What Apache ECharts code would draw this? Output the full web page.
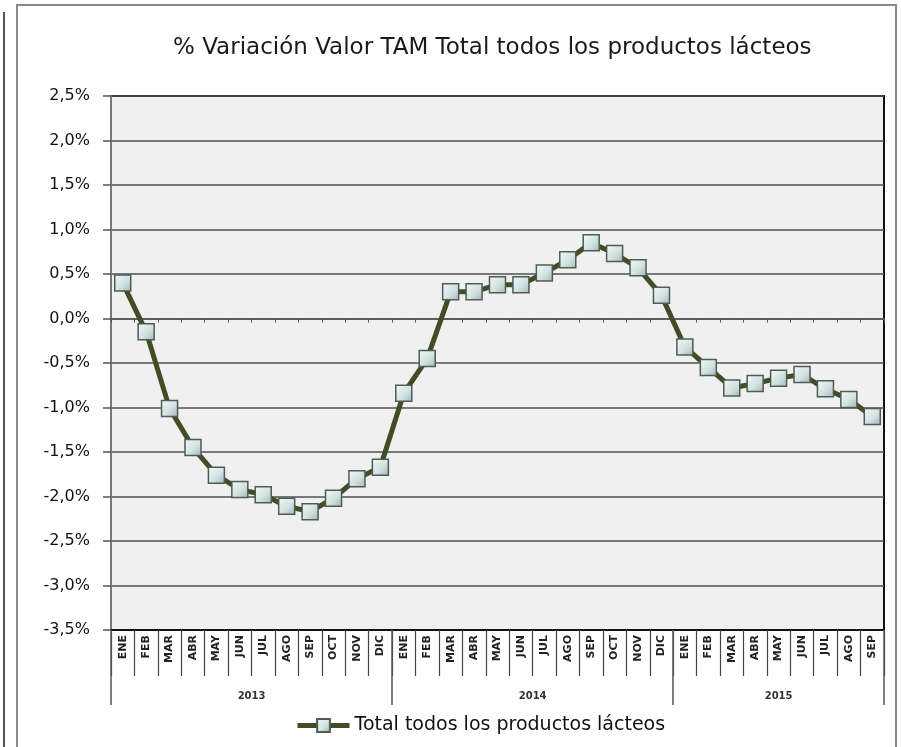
<!DOCTYPE html>
<html>
<head>
<meta charset="utf-8">
<title>% Variación Valor TAM</title>
<script src="https://cdn.jsdelivr.net/npm/echarts@6/dist/echarts.min.js"></script>
<style>
  html, body { margin: 0; padding: 0; background: #ffffff; }
  #chart { width: 901px; height: 747px; }
</style>
</head>
<body>
<div id="chart"></div>
<script>
// Month labels for each category (2013 ENE .. 2015 SEP)
const months = [
  'ENE','FEB','MAR','ABR','MAY','JUN','JUL','AGO','SEP','OCT','NOV','DIC',
  'ENE','FEB','MAR','ABR','MAY','JUN','JUL','AGO','SEP','OCT','NOV','DIC',
  'ENE','FEB','MAR','ABR','MAY','JUN','JUL','AGO','SEP'
];
// Year groups: label, first category index, number of months
const years = ['2013', '2014', '2015'];
const yearStart = [0, 12, 24];
const yearLength = [12, 12, 9];

// % variation of TAM value, all dairy products
const seriesName = 'Total todos los productos lácteos';
const values = [
  0.40, -0.15, -1.01, -1.45, -1.76, -1.92, -1.98, -2.11, -2.17, -2.02, -1.80, -1.67,
  -0.84, -0.45, 0.30, 0.30, 0.38, 0.38, 0.51, 0.66, 0.85, 0.73, 0.57, 0.26,
  -0.32, -0.55, -0.78, -0.73, -0.67, -0.63, -0.79, -0.91, -1.10
];

// Y axis range and step
const yMin = -3.5, yMax = 2.5, yStep = 0.5;

const nCat = months.length;
const yearBounds = yearStart.concat([nCat]);
const yearCenters = yearStart.map((s, i) => s + yearLength[i] / 2);

const FONT = 'DejaVu Sans';
const LINE_COLOR = '#404d25';

const markerFill = new echarts.graphic.LinearGradient(0, 0, 1, 1, [
  { offset: 0, color: '#f4f9f9' },
  { offset: 0.55, color: '#d3e2e2' },
  { offset: 1, color: '#9fb6b6' }
]);

const chart = echarts.init(document.getElementById('chart'), null, { renderer: 'canvas' });

chart.setOption({
  animation: false,
  backgroundColor: '#ffffff',
  textStyle: { fontFamily: FONT },
  title: {
    text: '% Variación Valor TAM Total todos los productos lácteos',
    left: 168,
    top: 32,
    textStyle: { fontFamily: FONT, fontSize: 23, fontWeight: 'normal', color: '#1a1a1a' }
  },
  graphic: [
    { type: 'rect', shape: { x: 17, y: 5, width: 879, height: 745 },
      style: { fill: 'none', stroke: '#8a8a8a', lineWidth: 2 }, silent: true },
    { type: 'line', shape: { x1: 4, y1: 12, x2: 4, y2: 747 },
      style: { stroke: '#555', lineWidth: 2 }, silent: true }
  ],
  legend: {
    data: [seriesName],
    left: 290,
    top: 711,
    itemWidth: 52,
    itemHeight: 16,
    itemGap: 4,
    lineStyle: { color: LINE_COLOR, width: 5 },
    textStyle: { fontFamily: FONT, fontSize: 19, color: '#111' }
  },
  grid: {
    left: 111, right: 17, top: 96, bottom: 117,
    show: true,
    backgroundColor: '#f0f0f0',
    borderColor: '#111',
    borderWidth: 2
  },
  xAxis: [
    {
      // months along the bottom edge
      type: 'category',
      data: months,
      position: 'bottom',
      boundaryGap: true,
      axisLine: { show: true, onZero: false, lineStyle: { color: '#111', width: 2 } },
      axisTick: { show: true, interval: 0, length: 46, lineStyle: { color: '#444', width: 1.2 } },
      axisLabel: {
        interval: 0, rotate: 90, margin: 5,
        fontFamily: FONT, fontSize: 11, fontWeight: 'bold', color: '#222'
      },
      splitLine: { show: false }
    },
    {
      // year groups below the months
      type: 'value',
      position: 'bottom',
      min: 0,
      max: nCat,
      axisLine: { show: false, onZero: false },
      axisTick: { show: true, customValues: yearBounds, length: 75, lineStyle: { color: '#555', width: 1.5 } },
      axisLabel: {
        customValues: yearCenters,
        margin: 61,
        fontFamily: FONT, fontSize: 10, fontWeight: 'bold', color: '#333',
        formatter: function (v) {
          const i = yearCenters.indexOf(v);
          return i >= 0 ? years[i] : '';
        }
      },
      splitLine: { show: false }
    },
    {
      // small ticks along the zero line
      type: 'category',
      data: months,
      position: 'bottom',
      boundaryGap: true,
      axisLine: { show: true, onZero: true, lineStyle: { color: '#555', width: 1.5 } },
      axisTick: { show: true, interval: 0, length: 4, lineStyle: { color: '#555', width: 1 } },
      axisLabel: { show: false },
      splitLine: { show: false }
    }
  ],
  yAxis: {
    type: 'value',
    min: yMin,
    max: yMax,
    interval: yStep,
    axisLine: { show: true, lineStyle: { color: '#777', width: 2 } },
    axisTick: { show: true, length: 8, lineStyle: { color: '#555', width: 1.5 } },
    axisLabel: {
      margin: 21,
      fontFamily: FONT, fontSize: 16, color: '#111',
      formatter: v => v.toFixed(1).replace('.', ',') + '%'
    },
    splitLine: { show: true, lineStyle: { color: '#505050', width: 1.5 } }
  },
  series: [{
    name: seriesName,
    type: 'line',
    xAxisIndex: 0,
    data: values,
    symbol: 'rect',
    symbolSize: 16,
    lineStyle: { color: LINE_COLOR, width: 5 },
    itemStyle: {
      color: markerFill,
      borderColor: '#4e5c56',
      borderWidth: 1.5
    },
    z: 5
  }]
});
</script>
</body>
</html>
